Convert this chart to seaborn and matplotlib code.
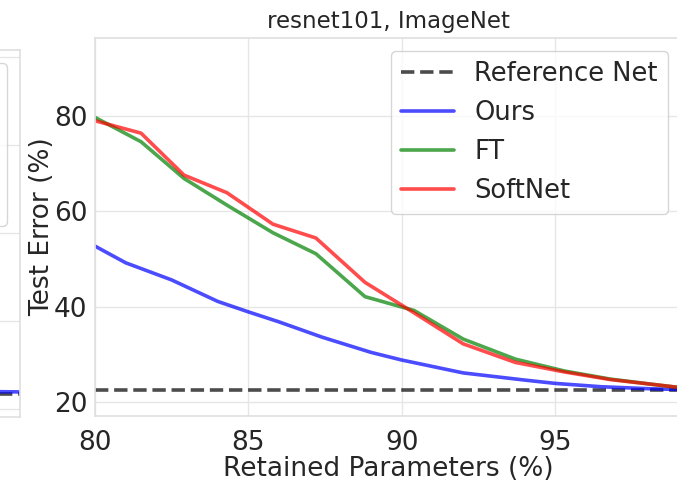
import matplotlib
matplotlib.use("Agg")
import matplotlib.pyplot as plt
import seaborn as sns
import numpy as np

# ---------------- data ----------------
ref_error = 22.5

ft_x = [80, 81.5, 82.9, 84.3, 85.8, 87.2, 88.8, 90.4, 92.0, 93.7, 95.3, 96.8, 98.3, 99.1]
ft_err = [79.7, 74.6, 66.9, 61.3, 55.5, 51.1, 42.1, 39.2, 33.2, 29.0, 26.5, 24.8, 23.6, 23.0]
softnet_err = [79.0, 76.4, 67.6, 63.9, 57.3, 54.4, 45.1, 38.7, 32.2, 28.3, 26.3, 24.7, 23.6, 23.0]

ours_x = [80, 81, 82.5, 84, 85, 86, 87.4, 89, 90, 92, 94, 95, 96.5, 98, 99.1]
ours_err = [52.7, 49.2, 45.6, 41.1, 38.9, 36.8, 33.6, 30.4, 28.8, 26.1, 24.6, 23.9, 23.2, 22.8, 22.6]

# neighbouring (cropped) panel
left_ref = 23.4
left_x = [80, 85, 90, 95, 99.1]
left_ours = [26.0, 25.0, 24.5, 24.1, 23.9]

labels = ["Reference Net", "Ours", "FT", "SoftNet"]
title = "resnet101, ImageNet"
xlabel = "Retained Parameters (%)"
ylabel = "Test Error (%)"
xticks = [80, 85, 90, 95]
yticks = [20, 40, 60, 80]

# ---------------- style ----------------
sns.set_theme(style="whitegrid")
plt.rcParams["font.family"] = ["DejaVu Sans"]
plt.rcParams["axes.edgecolor"] = "0.88"
plt.rcParams["grid.color"] = "0.9"

W, H = 677, 487
fig = plt.figure(figsize=(W / 100, H / 100), dpi=100)

A = 0.7
c_ref = "black"
c_ours = "blue"
c_ft = "green"
c_soft = "red"
lw = 2.6
fs_tick = 19
fs_lab = 19
fs_leg = 18.5
fs_title = 16.5

# cropped left panel (only its right edge is visible, as in the reference)
ax0 = fig.add_axes([-0.5, 1 - 417 / H, 0.5 + 20 / W, (417 - 50) / H])
ax0.axhline(left_ref, color=c_ref, ls="--", lw=lw, alpha=A, label=labels[0])
sns.lineplot(x=left_x, y=left_ours, ax=ax0, color=c_ours, lw=lw, alpha=A, label=labels[1])
ax0.plot([], [], color=c_ft, lw=lw, alpha=A, label=labels[2])
ax0.plot([], [], color=c_soft, lw=lw, alpha=A, label=labels[3])
ax0.set_xlim(80, 99.1)
ax0.set_ylim(18.2, 101.6)
ax0.set_yticks([20, 40, 60, 80, 100])
ax0.set_xticks(xticks)
ax0.tick_params(labelbottom=False, labelleft=False, length=0)
leg0 = ax0.legend(loc="upper right", fontsize=fs_leg, handlelength=2.05)
for t in leg0.get_texts():
    t.set_visible(False)

# main panel
ax = fig.add_axes([95 / W, 1 - 416 / H, 586 / W, 378 / H])
ax.axhline(ref_error, color=c_ref, ls="--", lw=lw, alpha=A, label=labels[0])
sns.lineplot(x=ours_x, y=ours_err, ax=ax, color=c_ours, lw=lw, alpha=A, label=labels[1])
sns.lineplot(x=ft_x, y=ft_err, ax=ax, color=c_ft, lw=lw, alpha=A, label=labels[2])
sns.lineplot(x=ft_x, y=softnet_err, ax=ax, color=c_soft, lw=lw, alpha=A, label=labels[3])

ax.set_xlim(80, 99.1)
ax.set_ylim(17.06, 96.36)
ax.set_xticks(xticks)
ax.set_yticks(yticks)
ax.tick_params(axis="both", labelsize=fs_tick, colors="0.15", length=0)
ax.tick_params(axis="x", pad=10)
ax.tick_params(axis="y", pad=5.5)
ax.set_xlabel(xlabel, fontsize=fs_lab, color="0.15", labelpad=0)
ax.set_ylabel(ylabel, fontsize=fs_lab, color="0.15", labelpad=-1)
ax.set_title(title, fontsize=fs_title, color="0.15", pad=7)
ax.legend(loc="upper right", fontsize=fs_leg, handlelength=2.05)

fig.savefig("out.png", dpi=100)
